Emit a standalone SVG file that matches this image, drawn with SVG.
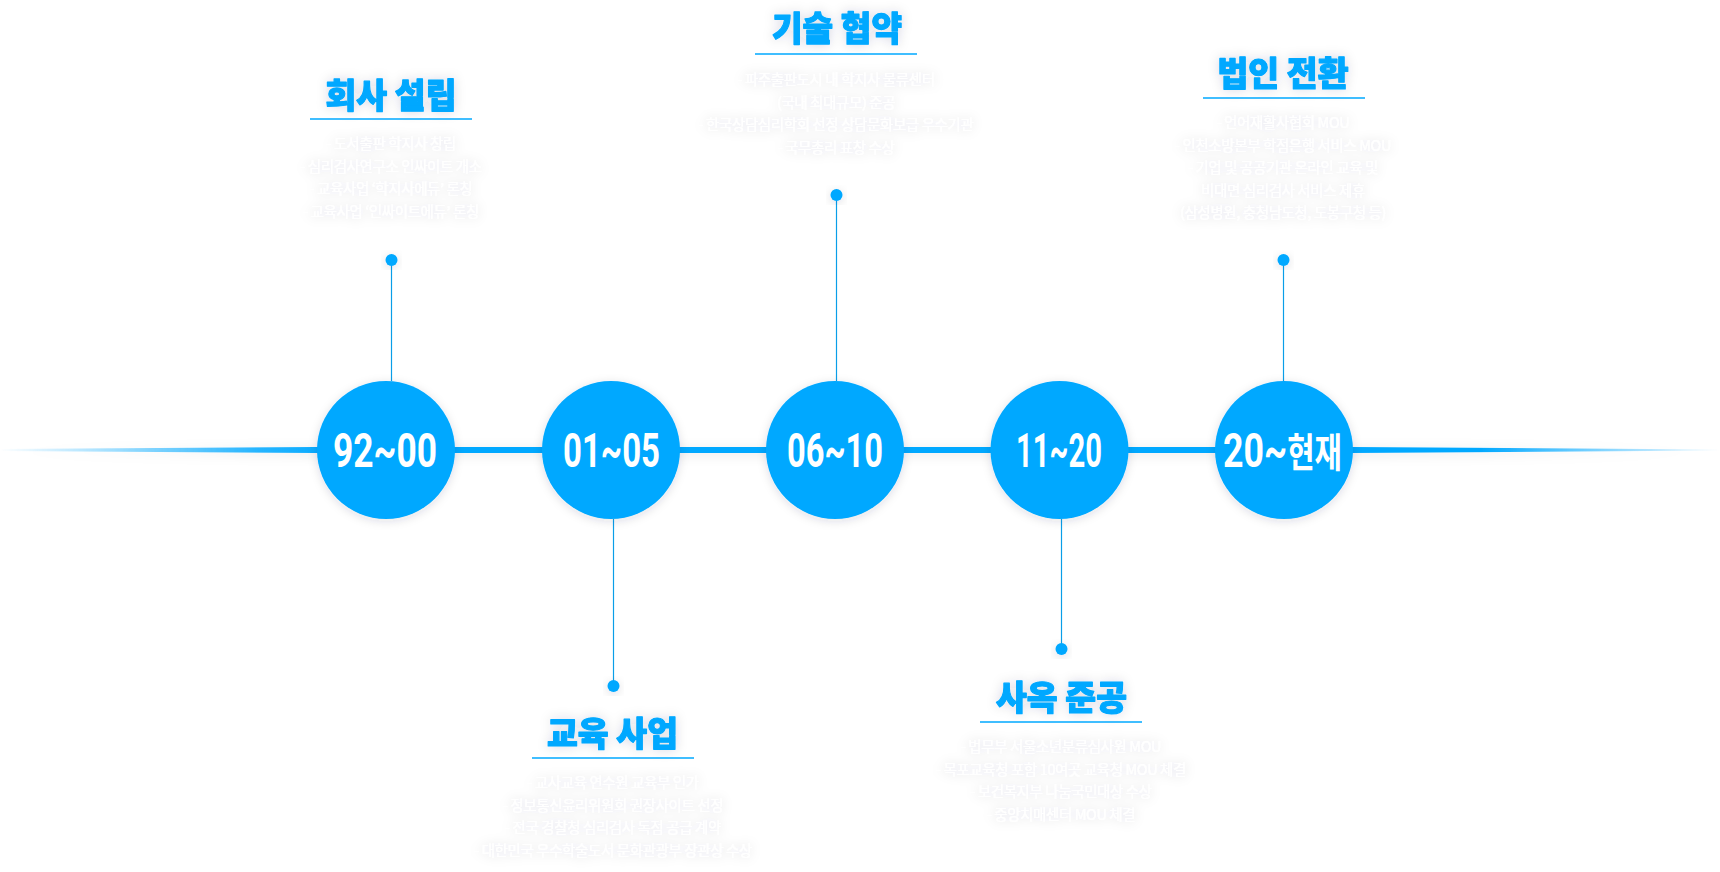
<svg xmlns="http://www.w3.org/2000/svg" width="1720" height="872" viewBox="0 0 1720 872">
<style>
.title{font-family:"Noto Sans CJK KR","Noto Sans",sans-serif;font-weight:900;font-size:34px;fill:#00a8ff;stroke:#00a8ff;stroke-width:1.2px;stroke-linejoin:round;text-anchor:middle;}
.desc{font-family:"Noto Sans CJK KR","Noto Sans",sans-serif;font-weight:400;font-size:14.5px;fill:#ffffff;text-anchor:middle;letter-spacing:-0.4px;}
.ul{stroke:#00a8ff;stroke-width:1.5;}
.lbl{font-family:Roboto,"Noto Sans CJK KR",sans-serif;font-weight:700;font-size:48px;fill:#ffffff;}
.lblk{font-family:"Noto Sans CJK KR",sans-serif;font-weight:700;font-size:40px;}
.conn{stroke:#0a9ee8;stroke-width:1.2;fill:none;}
.dot{fill:#00a8ff;}
.circ{fill:#00a8ff;}
</style>
<defs>
<linearGradient id="lineGrad" gradientUnits="userSpaceOnUse" x1="0" y1="0" x2="1720" y2="0">
<stop offset="0" stop-color="#00a8ff" stop-opacity="0"/>
<stop offset="0.15" stop-color="#00a8ff" stop-opacity="0.85"/>
<stop offset="0.2" stop-color="#00a8ff" stop-opacity="1"/>
<stop offset="0.86" stop-color="#00a8ff" stop-opacity="1"/>
<stop offset="1" stop-color="#00a8ff" stop-opacity="0"/>
</linearGradient>
<filter id="shadow" x="-30%" y="-30%" width="160%" height="160%">
<feDropShadow dx="0" dy="2" stdDeviation="5" flood-color="#202040" flood-opacity="0.14"/>
</filter>
<filter id="lineShadow" filterUnits="userSpaceOnUse" x="0" y="420" width="1720" height="60">
<feDropShadow dx="0" dy="2" stdDeviation="6" flood-color="#202040" flood-opacity="0.10"/>
</filter>
<filter id="glow" x="-15%" y="-40%" width="130%" height="180%">
<feDropShadow dx="0" dy="0" stdDeviation="6" flood-color="#303050" flood-opacity="0.16"/>
</filter>
</defs>
<rect width="1720" height="872" fill="#ffffff"/>

<g id="timeline">
<path d="M0,449 L316,447 L1353,447 L1720,449.5 L1720,450.5 L1353,453 L316,453 L0,451 Z" fill="url(#lineGrad)" filter="url(#lineShadow)"/>
</g>

<g id="connectors">
<line class="conn" x1="391.5" y1="260" x2="391.5" y2="381"/>
<circle class="dot" cx="391.5" cy="260" r="6" filter="url(#shadow)"/>
<line class="conn" x1="613.5" y1="519" x2="613.5" y2="686"/>
<circle class="dot" cx="613.5" cy="686" r="6" filter="url(#shadow)"/>
<line class="conn" x1="836.5" y1="195" x2="836.5" y2="381"/>
<circle class="dot" cx="836.5" cy="195" r="6" filter="url(#shadow)"/>
<line class="conn" x1="1061.5" y1="519" x2="1061.5" y2="649"/>
<circle class="dot" cx="1061.5" cy="649" r="6" filter="url(#shadow)"/>
<line class="conn" x1="1283.5" y1="260" x2="1283.5" y2="381"/>
<circle class="dot" cx="1283.5" cy="260" r="6" filter="url(#shadow)"/>
</g>

<g id="node-92-00">
<circle class="circ" cx="386" cy="450" r="69" filter="url(#shadow)"/>
<text class="lbl" x="333" y="467" textLength="104" lengthAdjust="spacingAndGlyphs">92~00</text>
</g>
<g id="node-01-05">
<circle class="circ" cx="611" cy="450" r="69" filter="url(#shadow)"/>
<text class="lbl" x="563" y="467" textLength="97" lengthAdjust="spacingAndGlyphs">01~05</text>
</g>
<g id="node-06-10">
<circle class="circ" cx="835" cy="450" r="69" filter="url(#shadow)"/>
<text class="lbl" x="787" y="467" textLength="96" lengthAdjust="spacingAndGlyphs">06~10</text>
</g>
<g id="node-11-20">
<circle class="circ" cx="1059.5" cy="450" r="69" filter="url(#shadow)"/>
<text class="lbl" x="1016" y="467" textLength="86" lengthAdjust="spacingAndGlyphs">11~20</text>
</g>
<g id="node-20-now">
<circle class="circ" cx="1284" cy="450" r="69" filter="url(#shadow)"/>
<text class="lbl" x="1223" y="467" textLength="119" lengthAdjust="spacingAndGlyphs">20~<tspan class="lblk">현재</tspan></text>
</g>

<g id="info-company-founding">
<text class="title" x="391" y="108" textLength="131" lengthAdjust="spacingAndGlyphs" filter="url(#glow)">회사 설립</text>
<line class="ul" x1="310" y1="119" x2="472" y2="119"/>
<g filter="url(#glow)">
<text class="desc" x="391" y="149">- 도서출판 학지사 창립</text>
<text class="desc" x="391" y="171.5">- 심리검사연구소 인싸이트 개소</text>
<text class="desc" x="391" y="194">- 교육사업 ‘학지사에듀’ 론칭</text>
<text class="desc" x="391" y="216.5">- 교육사업 ‘인싸이트에듀’ 론칭</text>
</g>
</g>

<g id="info-tech-agreement">
<text class="title" x="837" y="41" textLength="130" lengthAdjust="spacingAndGlyphs" filter="url(#glow)">기술 협약</text>
<line class="ul" x1="755" y1="54" x2="917" y2="54"/>
<g filter="url(#glow)">
<text class="desc" x="836" y="85">- 파주출판도시 내 학지사 물류센터</text>
<text class="desc" x="836" y="107.5">(국내 최대규모) 준공</text>
<text class="desc" x="836" y="130">- 한국상담심리학회 선정 상담문화보급 우수기관</text>
<text class="desc" x="836" y="152.5">- 국무총리 표창 수상</text>
</g>
</g>

<g id="info-incorporation">
<text class="title" x="1283" y="86" textLength="131" lengthAdjust="spacingAndGlyphs" filter="url(#glow)">법인 전환</text>
<line class="ul" x1="1203" y1="98" x2="1365" y2="98"/>
<g filter="url(#glow)">
<text class="desc" x="1283" y="128">- 언어재활사협회 MOU</text>
<text class="desc" x="1283" y="150.5">- 인천소방본부 학점은행 서비스 MOU</text>
<text class="desc" x="1283" y="173">- 기업 및 공공기관 온라인 교육 및</text>
<text class="desc" x="1283" y="195.5">비대면 심리검사 서비스 제휴</text>
<text class="desc" x="1283" y="218">(삼성병원, 충청남도청, 도봉구청 등)</text>
</g>
</g>

<g id="info-education">
<text class="title" x="612.5" y="746" textLength="131" lengthAdjust="spacingAndGlyphs" filter="url(#glow)">교육 사업</text>
<line class="ul" x1="532" y1="758" x2="694" y2="758"/>
<g filter="url(#glow)">
<text class="desc" x="613" y="788">- 교사교육 연수원 교육부 인가</text>
<text class="desc" x="613" y="810.5">- 정보통신윤리위원회 권장사이트 선정</text>
<text class="desc" x="613" y="833">- 전국 경찰청 심리검사 독점 공급 계약</text>
<text class="desc" x="613" y="855.5">- 대한민국 우수학술도서 문화관광부 장관상 수상</text>
</g>
</g>

<g id="info-building">
<text class="title" x="1061.5" y="710" textLength="131" lengthAdjust="spacingAndGlyphs" filter="url(#glow)">사옥 준공</text>
<line class="ul" x1="980" y1="722" x2="1142" y2="722"/>
<g filter="url(#glow)">
<text class="desc" x="1061" y="752">- 법무부 서울소년분류심사원 MOU</text>
<text class="desc" x="1061" y="774.5">- 목포교육청 포함 10여곳 교육청 MOU 체결</text>
<text class="desc" x="1061" y="797">- 보건복지부 나눔국민대상 수상</text>
<text class="desc" x="1061" y="819.5">- 중앙치매센터 MOU 체결</text>
</g>
</g>
</svg>
